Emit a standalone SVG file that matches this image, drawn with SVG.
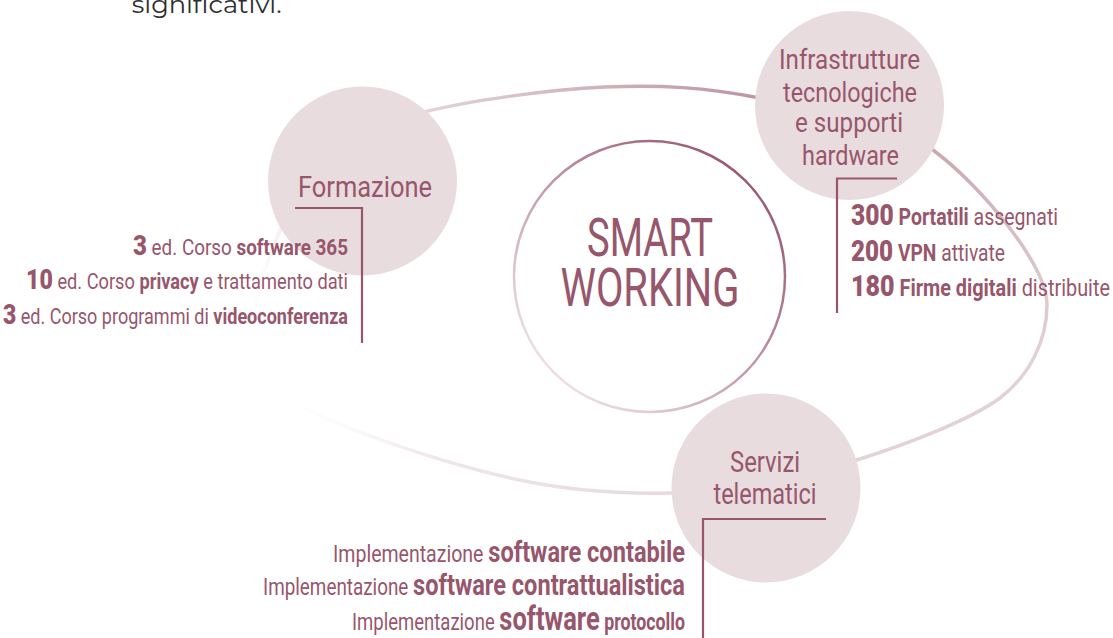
<svg xmlns="http://www.w3.org/2000/svg" width="1113" height="638" viewBox="0 0 1113 638">
<defs>
<radialGradient id="ringGrad" gradientUnits="userSpaceOnUse" cx="800" cy="90" r="610">
<stop offset="0" stop-color="#b98d98"/>
<stop offset="0.3" stop-color="#cdafb6"/>
<stop offset="0.6" stop-color="#e2d2d6"/>
<stop offset="0.85" stop-color="#f0e7e9"/>
<stop offset="1" stop-color="#ffffff" stop-opacity="0"/>
</radialGradient>
<linearGradient id="coreGrad" gradientUnits="userSpaceOnUse" x1="760" y1="160" x2="540" y2="400">
<stop offset="0" stop-color="#93506a"/>
<stop offset="0.5" stop-color="#c29aa5"/>
<stop offset="1" stop-color="#f4ecee"/>
</linearGradient>
</defs>
<style>
.bubble{fill:#e9dcdf}
.title{font-family:"Liberation Sans Narrow","Roboto","Liberation Sans",sans-serif;font-weight:400;fill:#97566b;text-anchor:middle}
.info{font-family:"Liberation Sans Narrow","Roboto","Liberation Sans",sans-serif;font-weight:400;fill:#97566b}
.b{font-weight:bold}
.n{font-weight:900}
.bracket{fill:none;stroke:#97566b;stroke-width:2.2}
</style>
<rect width="1113" height="638" fill="#ffffff"/>
<text x="131.7" y="13.3" font-family="Montserrat,'Open Sans',sans-serif" font-size="24" fill="#2e2e2e" textLength="150" lengthAdjust="spacingAndGlyphs">significativi.</text>
<g id="connectors">
<path d="M255,310 C260.5,270.3 292.5,192.8 320,160 C347.5,127.2 372.5,125.2 420,113 C467.5,100.8 548.3,89.5 605,87 C661.7,84.5 705.3,87.5 760,98 C814.7,108.5 885.2,114.7 933,150 C980.8,185.3 1047,265 1047,305 C1047,340 1030,375 1000,398 C970,420 908.3,443.8 857,460 C805.7,476.2 757.8,489 700,492 C642.2,495 578.8,493.7 510,478 C441.2,462.3 329.5,426 287,398 C244.5,370 249.5,349.7 255,310 Z" fill="none" stroke="url(#ringGrad)" stroke-width="3.5"/>
</g>
<g id="core">
<circle cx="649.5" cy="276.5" r="135.5" fill="#ffffff" stroke="url(#coreGrad)" stroke-width="2.5"/>
<text class="title" x="650" y="256" font-size="53" textLength="126" lengthAdjust="spacingAndGlyphs">SMART</text>
<text class="title" x="650" y="306" font-size="53" textLength="179" lengthAdjust="spacingAndGlyphs">WORKING</text>
</g>
<g id="formazione">
<circle class="bubble" cx="362.5" cy="181" r="94.5"/>
<text class="title" x="365" y="197" font-size="30" textLength="134" lengthAdjust="spacingAndGlyphs">Formazione</text>
<polyline class="bracket" points="295,208 362,208 362,343"/>
<text class="info" x="348" y="255" text-anchor="end" font-size="22" textLength="215" lengthAdjust="spacingAndGlyphs"><tspan class="n" font-size="28">3</tspan> ed.  Corso <tspan class="b">software 365</tspan></text>
<text class="info" x="348" y="289" text-anchor="end" font-size="22" textLength="322" lengthAdjust="spacingAndGlyphs"><tspan class="n" font-size="28">10</tspan> ed.  Corso <tspan class="b">privacy</tspan> e trattamento dati</text>
<text class="info" x="348" y="324" text-anchor="end" font-size="22" textLength="345" lengthAdjust="spacingAndGlyphs"><tspan class="n" font-size="28">3</tspan> ed.  Corso programmi di <tspan class="b">videoconferenza</tspan></text>
</g>
<g id="infrastrutture">
<circle class="bubble" cx="849.5" cy="105.5" r="94.5"/>
<text class="title" x="849.5" y="69" font-size="28" textLength="141" lengthAdjust="spacingAndGlyphs">Infrastrutture</text>
<text class="title" x="850" y="101.5" font-size="28" textLength="134" lengthAdjust="spacingAndGlyphs">tecnologiche</text>
<text class="title" x="849" y="132" font-size="28" textLength="108" lengthAdjust="spacingAndGlyphs">e supporti</text>
<text class="title" x="850.5" y="165" font-size="28" textLength="97" lengthAdjust="spacingAndGlyphs">hardware</text>
<polyline class="bracket" points="897,178.5 837,178.5 837,313"/>
<text class="info" x="851" y="225" font-size="23" textLength="207" lengthAdjust="spacingAndGlyphs"><tspan class="n" font-size="29">300</tspan> <tspan class="b">Portatili</tspan> assegnati</text>
<text class="info" x="851" y="260.5" font-size="23" textLength="154" lengthAdjust="spacingAndGlyphs"><tspan class="n" font-size="29">200</tspan> <tspan class="b">VPN</tspan> attivate</text>
<text class="info" x="851" y="296" font-size="23" textLength="259" lengthAdjust="spacingAndGlyphs"><tspan class="n" font-size="29">180</tspan> <tspan class="b">Firme digitali</tspan> distribuite</text>
</g>
<g id="servizi">
<circle class="bubble" cx="766" cy="488" r="94.5"/>
<text class="title" x="765" y="471.5" font-size="29" textLength="70" lengthAdjust="spacingAndGlyphs">Servizi</text>
<text class="title" x="765" y="504" font-size="29" textLength="103" lengthAdjust="spacingAndGlyphs">telematici</text>
<polyline class="bracket" points="826,519 703,519 703,640"/>
<text class="info" x="685" y="562" text-anchor="end" font-size="24" textLength="352" lengthAdjust="spacingAndGlyphs">Implementazione <tspan class="b" font-size="29">software contabile</tspan></text>
<text class="info" x="685" y="595" text-anchor="end" font-size="24" textLength="422" lengthAdjust="spacingAndGlyphs">Implementazione <tspan class="b" font-size="30">software contrattualistica</tspan></text>
<text class="info" x="685" y="630" text-anchor="end" font-size="24" textLength="333" lengthAdjust="spacingAndGlyphs">Implementazione <tspan class="b" font-size="33">software</tspan> <tspan class="b" font-size="23">protocollo</tspan></text>
</g>
</svg>
